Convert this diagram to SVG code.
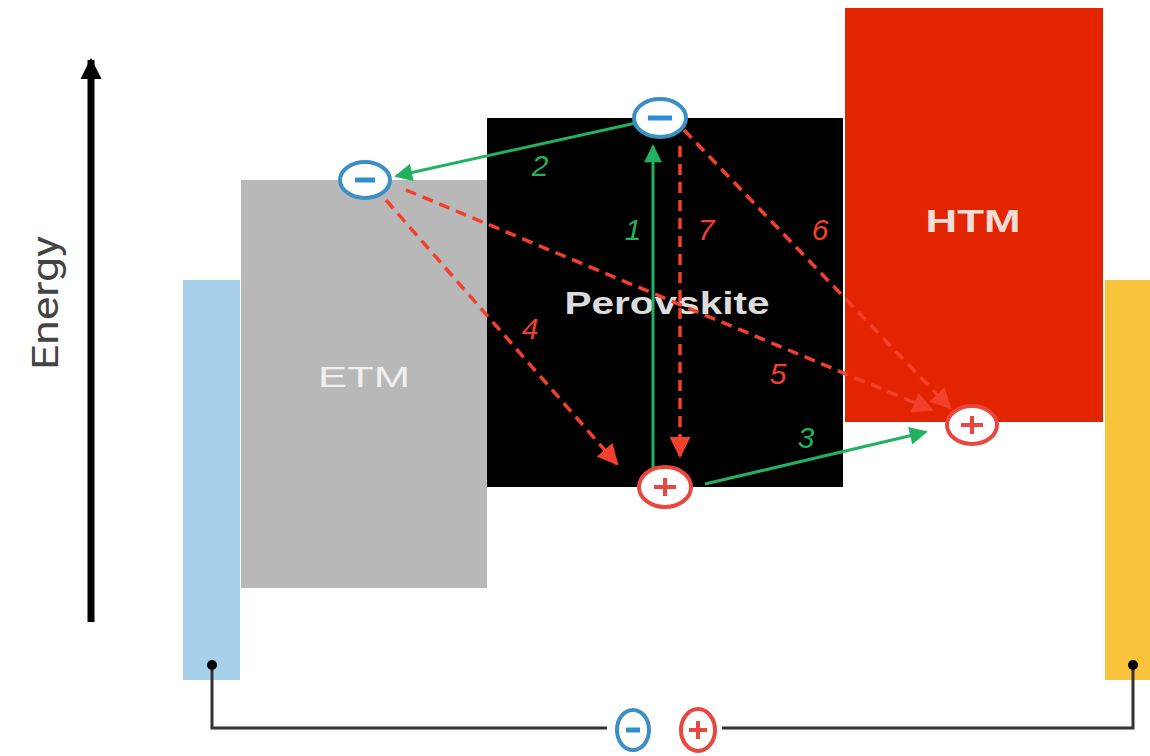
<svg xmlns="http://www.w3.org/2000/svg" width="1150" height="756" viewBox="0 0 1150 756">
<defs>
<style>
.lbl{font-family:"Liberation Sans",Arial,sans-serif;text-anchor:middle}
.num{font-family:"Liberation Sans",Arial,sans-serif;font-style:italic;font-size:30px;text-anchor:middle}
.g{fill:#22b061}
.r{fill:#f2402c}
.ga{stroke:#22b061;stroke-width:3;fill:none}
.ra{stroke:#f2402c;stroke-width:3.5;fill:none;stroke-dasharray:11 7}
.eo{fill:#fff;stroke:#3b8fc4;stroke-width:4}
.ho{fill:#fff;stroke:#e8463e;stroke-width:4}
.em{stroke:#2e8fd0;stroke-width:5}
.hm{stroke:#e8463e;stroke-width:4}
</style>
<marker id="ag" viewBox="0 0 10 10" refX="9" refY="5" markerWidth="7" markerHeight="6" orient="auto" markerUnits="strokeWidth"><path d="M0,0 L10,5 L0,10 z" fill="#22b061"/></marker>
<marker id="ar" viewBox="0 0 10 10" refX="9" refY="5" markerWidth="6" markerHeight="6" orient="auto" markerUnits="strokeWidth"><path d="M0,0 L10,5 L0,10 z" fill="#f2402c"/></marker>
<marker id="ak" viewBox="0 0 10 10" refX="9" refY="5" markerWidth="3" markerHeight="3.4" orient="auto" markerUnits="strokeWidth"><path d="M0,0 L10,5 L0,10 z" fill="#000"/></marker>
</defs>
<rect width="1150" height="756" fill="#fff"/>

<g id="energy-axis">
<line x1="91" y1="622" x2="91" y2="60" stroke="#000" stroke-width="7" marker-end="url(#ak)"/>
<text transform="translate(58,303) rotate(-90)" font-family="Roboto,'Liberation Sans',sans-serif" font-size="36" fill="#444" text-anchor="middle" textLength="134" lengthAdjust="spacingAndGlyphs">Energy</text>
</g>

<g id="left-electrode"><rect x="183" y="280" width="57" height="400" fill="#a8d0ea"/></g>
<g id="etm"><rect x="241" y="180" width="246" height="408" fill="#b9b8b8"/>
<text class="lbl" x="364" y="387" font-size="30" fill="#efefef" textLength="92" lengthAdjust="spacingAndGlyphs">ETM</text></g>
<g id="perovskite"><rect x="487" y="118" width="356" height="369" fill="#000"/>
<text class="lbl" x="667" y="314" font-size="31" fill="#dcdcdc" font-weight="bold" textLength="205" lengthAdjust="spacingAndGlyphs">Perovskite</text></g>
<g id="htm"><rect x="845" y="8" width="258" height="414" fill="#e32400"/>
<text class="lbl" x="973" y="232" font-size="31" fill="#f6dcd6" font-weight="bold" textLength="95" lengthAdjust="spacingAndGlyphs">HTM</text></g>
<g id="right-electrode"><rect x="1105" y="280" width="45" height="400" fill="#f9c33c"/></g>

<g id="connectors">
<polyline points="212,665 212,728 607,728" fill="none" stroke="#333" stroke-width="3"/>
<polyline points="722,728 1133,728 1133,665" fill="none" stroke="#333" stroke-width="3"/>
<circle cx="212" cy="665" r="5" fill="#000"/>
<circle cx="1133" cy="665" r="5" fill="#000"/>
<line class="ga" x1="653" y1="480" x2="653" y2="146" marker-end="url(#ag)"/>
<line class="ga" x1="636" y1="123" x2="396" y2="176" marker-end="url(#ag)"/>
<line class="ga" x1="705" y1="484" x2="926" y2="432" marker-end="url(#ag)"/>
<line class="ra" x1="386" y1="200" x2="617" y2="464" marker-end="url(#ar)"/>
<line class="ra" x1="406" y1="190" x2="932" y2="410" marker-end="url(#ar)"/>
<line class="ra" x1="684" y1="130" x2="950" y2="408" marker-end="url(#ar)"/>
<line class="ra" x1="680" y1="146" x2="680" y2="456" marker-end="url(#ar)"/>
<text class="num g" x="633" y="240">1</text>
<text class="num g" x="540" y="176">2</text>
<text class="num g" x="806" y="448">3</text>
<text class="num r" x="530" y="339">4</text>
<text class="num r" x="778" y="384">5</text>
<text class="num r" x="820" y="240">6</text>
<text class="num r" x="706" y="240">7</text>
</g>

<g id="e-perovskite"><ellipse class="eo" cx="660" cy="118" rx="26" ry="19"/><line class="em" x1="648" y1="118" x2="672" y2="118"/></g>
<g id="e-etm"><ellipse class="eo" cx="365" cy="180" rx="25" ry="18"/><line class="em" x1="355" y1="180" x2="375" y2="180"/></g>
<g id="h-perovskite"><ellipse class="ho" cx="665" cy="487" rx="26" ry="20"/><line class="hm" x1="654" y1="487" x2="676" y2="487"/><line class="hm" x1="665" y1="478" x2="665" y2="496"/></g>
<g id="h-htm"><ellipse class="ho" cx="972" cy="425" rx="25" ry="19"/><line class="hm" x1="961" y1="425" x2="983" y2="425"/><line class="hm" x1="972" y1="416" x2="972" y2="434"/></g>
<g id="e-circuit"><ellipse class="eo" cx="633" cy="730" rx="16" ry="20" stroke-width="3"/><line class="em" x1="626" y1="730" x2="640" y2="730"/></g>
<g id="h-circuit"><ellipse class="ho" cx="698" cy="730" rx="17" ry="21" stroke-width="3"/><line class="hm" x1="689" y1="730" x2="707" y2="730" stroke-width="3"/><line class="hm" x1="698" y1="721" x2="698" y2="739" stroke-width="3"/></g>
</svg>
